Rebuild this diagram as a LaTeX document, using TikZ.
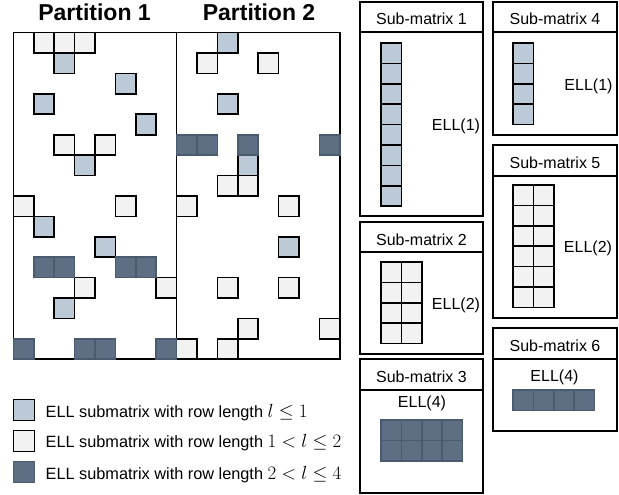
\RequirePackage{fix-cm}
\documentclass[tikz,border=0pt]{standalone}
\usepackage{fontspec}
\setmainfont{Liberation Sans}
\definecolor{cblue}{HTML}{BBCAD6}
\definecolor{clight}{HTML}{F2F2F2}
\definecolor{cdark}{HTML}{5F6F83}
\definecolor{cdarkb}{HTML}{4B5B6F}
\newcommand{\bigmath}[1]{{\fontsize{19}{22}\selectfont$#1$}}
\tikzset{
  cellbase/.style={minimum size=20.4pt, inner sep=0pt, outer sep=0pt, anchor=north west, line width=1.6pt},
  bcell/.style={cellbase, draw=black, fill=cblue},
  lcell/.style={cellbase, draw=black, fill=clight},
  dcell/.style={cellbase, draw=cdarkb, fill=cdark},
  frame/.style={draw=black, line width=1.6pt, inner sep=0pt, outer sep=0pt, anchor=north west},
  ptitle/.style={font=\fontsize{23}{27}\selectfont\bfseries, inner sep=0pt, anchor=base},
  lab/.style={font=\fontsize{16}{19}\selectfont, inner sep=0pt},
  legtext/.style={font=\fontsize{16.3}{19}\selectfont, inner sep=0pt, anchor=base west},
}
\begin{document}
\begin{tikzpicture}[x=1pt,y=-1pt]
\useasboundingbox (0,0) rectangle (619,495);
\def\ox{13.3}\def\oy{32.7}\def\cs{20.4}
% titles
\node[ptitle] (t1) at (94.5,20.7) {Partition 1};
\node[ptitle] (t2) at (259,20.7) {Partition 2};
% partitions
\node[frame, minimum width=163.2pt, minimum height=326.4pt] (p1) at (13.3,32.7) {};
\node[frame, minimum width=163.2pt, minimum height=326.4pt] (p2) at (176.5,32.7) {};
% matrix cells
\foreach \c/\r [count=\i] in {2/1,5/2,1/3,6/4,3/6,1/9,4/10,2/13,10/0,10/3,11/6,13/10}
  \node[bcell] (mb\i) at ({\ox+\c*\cs},{\oy+\r*\cs}) {};
\foreach \c/\r [count=\i] in {1/0,2/0,3/0,2/5,4/5,0/8,5/8,3/12,7/12,9/1,12/1,10/7,11/7,8/8,13/8,10/12,13/12,11/14,15/14,8/15,10/15}
  \node[lcell] (ml\i) at ({\ox+\c*\cs},{\oy+\r*\cs}) {};
\foreach \c/\r [count=\i] in {1/11,2/11,5/11,6/11,0/15,3/15,4/15,7/15,8/5,9/5,11/5,15/5}
  \node[dcell] (md\i) at ({\ox+\c*\cs},{\oy+\r*\cs}) {};
% sub-matrix frames
\node[frame, minimum width=123pt, minimum height=30pt] (h1) at (360,2) {};
\node[frame, minimum width=123pt, minimum height=184pt] (s1) at (360,32) {};
\node[frame, minimum width=124pt, minimum height=30pt] (h4) at (493,2) {};
\node[frame, minimum width=124pt, minimum height=103pt] (s4) at (493,32) {};
\node[frame, minimum width=124pt, minimum height=31pt] (h5) at (493,145) {};
\node[frame, minimum width=124pt, minimum height=142pt] (s5) at (493,176) {};
\node[frame, minimum width=123pt, minimum height=30pt] (h2) at (360,222) {};
\node[frame, minimum width=123pt, minimum height=102pt] (s2) at (360,252) {};
\node[frame, minimum width=123pt, minimum height=31pt] (h3) at (360,359) {};
\node[frame, minimum width=123pt, minimum height=103pt] (s3) at (360,390) {};
\node[frame, minimum width=124pt, minimum height=31pt] (h6) at (493,328) {};
\node[frame, minimum width=124pt, minimum height=72pt] (s6) at (493,359) {};
% header texts
\node[lab, anchor=base] (ht1) at (421.5,25) {Sub-matrix 1};
\node[lab, anchor=base] (ht4) at (555,25) {Sub-matrix 4};
\node[lab, anchor=base] (ht5) at (555,168.5) {Sub-matrix 5};
\node[lab, anchor=base] (ht2) at (421.5,245) {Sub-matrix 2};
\node[lab, anchor=base] (ht3) at (421.5,382) {Sub-matrix 3};
\node[lab, anchor=base] (ht6) at (555,351) {Sub-matrix 6};
% sub-matrix cells
\foreach \r in {0,...,7} \node[bcell] (a\r) at (381,{43+\r*\cs}) {};
\foreach \r in {0,...,3} \node[bcell] (d\r) at (513,{43+\r*\cs}) {};
\foreach \c in {0,1} \foreach \r in {0,...,5} \node[lcell] (e\c\r) at ({513+\c*\cs},{185+\r*\cs}) {};
\foreach \c in {0,1} \foreach \r in {0,...,3} \node[lcell] (b\c\r) at ({381+\c*\cs},{262+\r*\cs}) {};
\foreach \c in {0,...,3} \foreach \r in {0,1} \node[dcell] (c\c\r) at ({381+\c*\cs},{420+\r*\cs}) {};
\foreach \c in {0,...,3} \node[dcell] (f\c) at ({513+\c*\cs},390) {};
% ELL labels
\node[lab] (e1) at (456,126) {ELL(1)};
\node[lab] (e4) at (588.5,86) {ELL(1)};
\node[lab] (e5) at (588,248.5) {ELL(2)};
\node[lab] (e2) at (456,305) {ELL(2)};
\node[lab] (e3) at (422,403.5) {ELL(4)};
\node[lab] (e6) at (554.5,377.5) {ELL(4)};
% legend
\node[bcell, minimum size=21pt] (k1) at (13.3,399.5) {};
\node[lcell, minimum size=21pt] (k2) at (13.3,430.5) {};
\node[dcell, minimum size=21pt] (k3) at (13.3,461.5) {};
\node[legtext] (kt1) at (45.5,417.3) {ELL submatrix with row length \bigmath{l \leq 1}};
\node[legtext] (kt2) at (45.5,447.7) {ELL submatrix with row length \bigmath{1 < l \leq 2}};
\node[legtext] (kt3) at (45.5,479) {ELL submatrix with row length \bigmath{2 < l \leq 4}};
\end{tikzpicture}
\end{document}
